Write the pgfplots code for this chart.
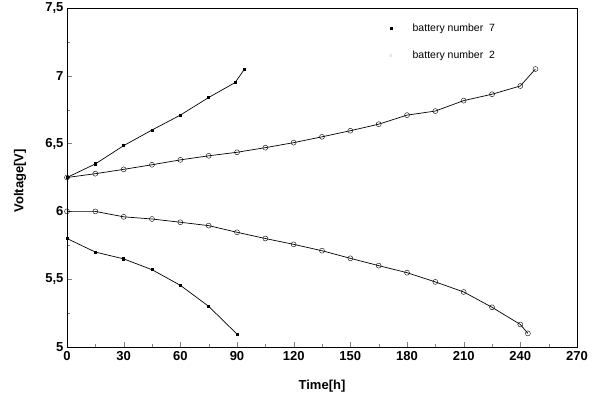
\documentclass[border=0pt]{standalone}
\usepackage{pgfplots}
\pgfplotsset{compat=1.18}
\usepackage{fontspec}
\setmainfont{Liberation Sans}
\begin{document}
\begin{tikzpicture}
\useasboundingbox (-67pt,-57pt) rectangle (525pt,347pt);
\begin{axis}[
  at={(0,0)}, anchor=south west,
  scale only axis, width=510pt, height=339pt,
  xmin=0, xmax=270, ymin=5, ymax=7.5,
  xtick={0,30,...,270}, ytick={5,5.5,...,7.5},
  minor x tick num=1, minor y tick num=1,
  xtick pos=left, ytick pos=left,
  tick align=inside,
  major tick length=5pt, minor tick length=3pt,
  /pgf/number format/use comma,
  /pgf/number format/assume math mode=true,
  tick label style={font=\bfseries\fontsize{13}{15}\selectfont},
  xticklabel style={yshift=-1pt},
  xlabel={\textbf{Time[h]}}, ylabel={\textbf{Voltage[V]}},
  label style={font=\fontsize{13}{15}\selectfont},
  xlabel style={at={(axis description cs:0.5,-0.115)}, anchor=center},
  ylabel style={at={(axis description cs:-0.092,0.49)}, anchor=center},
  axis line style={line width=0.8pt},
  legend style={draw=none, fill=none, at={(axis description cs:0.632,0.96)}, anchor=north west,
     font=\fontsize{10.5}{12}\selectfont, row sep=14pt, inner sep=0pt},
  legend image code/.code={\path (0cm,0cm) (0.72cm,0cm); \draw[#1] plot coordinates {(0.03cm,0cm)};},
  legend cell align=left,
  clip=false,
]
\addlegendimage{only marks, mark=square*, mark size=1.1pt, black}
\addlegendentry{battery number\ \ 7}
\addlegendimage{only marks, mark=o, mark size=1.3pt, gray!40}
\addlegendentry{battery number\ \ 2}

% battery 7 charge
\addplot[black, line width=0.7pt, mark=square*, mark size=1.1pt, forget plot] coordinates {
(0,6.25) (15,6.35) (30,6.485) (45,6.60) (60,6.71) (75,6.84) (89,6.95) (94,7.05)};
% battery 7 discharge
\addplot[black, line width=0.7pt, mark=square*, mark size=1.1pt, forget plot] coordinates {
(0,5.8) (15,5.7) (30,5.65) (45,5.57) (60,5.455) (75,5.30) (90,5.095)};
% battery 2 charge
\addplot[black, line width=0.7pt, mark=o, mark size=2.5pt, mark options={line width=0.4pt}, forget plot] coordinates {
(0,6.25) (15,6.278) (30,6.31) (45,6.344) (60,6.38) (75,6.41) (90,6.436) (105,6.47) (120,6.507) (135,6.55) (150,6.595) (165,6.643) (180,6.71) (195,6.74) (210,6.817) (225,6.864) (240,6.925) (248,7.05)};
% battery 2 discharge
\addplot[black, line width=0.7pt, mark=o, mark size=2.5pt, mark options={line width=0.4pt}, forget plot] coordinates {
(0,6.0) (15,6.0) (30,5.96) (45,5.944) (60,5.92) (75,5.895) (90,5.846) (105,5.80) (120,5.757) (135,5.71) (150,5.654) (165,5.60) (180,5.548) (195,5.48) (210,5.406) (225,5.293) (240,5.166) (244,5.10)};
\end{axis}
\end{tikzpicture}
\end{document}
